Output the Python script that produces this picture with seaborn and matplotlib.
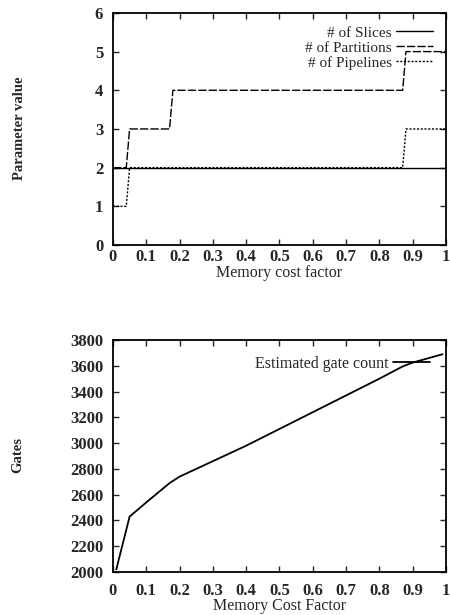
import numpy as np
import pandas as pd
import seaborn as sns
from matplotlib import pyplot as plt

# ==== data ====
cost = [0.0, 0.04, 0.05, 0.17, 0.18, 0.87, 0.88, 1.0]
slices = [2, 2, 2, 2, 2, 2, 2, 2]
partitions = [2, 2, 3, 3, 4, 4, 5, 5]
pipelines = [1, 1, 2, 2, 2, 2, 3, 3]

gate_cost = [0.01, 0.05, 0.10, 0.17, 0.20, 0.30, 0.40, 0.50, 0.60, 0.70, 0.80, 0.87, 0.90, 0.99]
gate_count = [2020, 2430, 2540, 2690, 2740, 2860, 2980, 3110, 3240, 3370, 3500, 3595, 3625, 3690]

xtick_labels = ['0', '0.1', '0.2', '0.3', '0.4', '0.5', '0.6', '0.7', '0.8', '0.9', '1']

sns.set_style('ticks')
plt.rcParams['font.family'] = ['Liberation Serif', 'DejaVu Serif']
plt.rcParams['xtick.direction'] = 'in'
plt.rcParams['ytick.direction'] = 'in'
plt.rcParams['xtick.top'] = True
plt.rcParams['ytick.right'] = True

fig = plt.figure(figsize=(4.5, 6.15), dpi=100)
ax1 = fig.add_axes([0.251, 0.6016, 0.740, 0.3774])
ax2 = fig.add_axes([0.251, 0.0699, 0.740, 0.3772])

top_df = pd.DataFrame({
    'x': cost * 3,
    'y': slices + partitions + pipelines,
    'series': ['# of Slices'] * len(cost) + ['# of Partitions'] * len(cost) + ['# of Pipelines'] * len(cost),
})
sns.lineplot(data=top_df, x='x', y='y', style='series', color='black', linewidth=1.0,
             dashes={'# of Slices': '', '# of Partitions': (6, 1.5), '# of Pipelines': (1.5, 1.2)},
             ax=ax1)
ax1.set_xlim(0, 1)
ax1.set_ylim(0, 6)
ax1.set_xticks(np.arange(0, 1.01, 0.1))
ax1.set_xticklabels(xtick_labels)
ax1.set_yticks(range(7))
ax1.set_xlabel('Memory cost factor', fontsize=11.5, labelpad=0)
ax1.set_ylabel('Parameter value', fontsize=10.5, fontweight='bold')
ax1.yaxis.set_label_coords(0.058, 0.792, transform=fig.transFigure)
leg = ax1.legend(loc='upper right', frameon=False, markerfirst=False, fontsize=11,
                 handlelength=2.4, labelspacing=0.08, borderaxespad=0.45, handletextpad=0.3)
for t in leg.get_texts():
    t.set_ha('right')

gate_df = pd.DataFrame({'x': gate_cost, 'y': gate_count})
sns.lineplot(data=gate_df, x='x', y='y', color='black', linewidth=1.3,
             label='Estimated gate count', ax=ax2)
ax2.set_xlim(0, 1)
ax2.set_ylim(2000, 3800)
ax2.set_xticks(np.arange(0, 1.01, 0.1))
ax2.set_xticklabels(xtick_labels)
ax2.set_yticks(range(2000, 3801, 200))
ax2.set_xlabel('Memory Cost Factor', fontsize=11.5, labelpad=-1)
ax2.set_ylabel('Gates', fontsize=10.5, fontweight='bold')
ax2.yaxis.set_label_coords(0.055, 0.26, transform=fig.transFigure)
ax2.legend(loc='upper right', frameon=False, markerfirst=False, fontsize=11.5,
           handlelength=2.3, borderaxespad=0.6, handletextpad=0.3)

for ax in (ax1, ax2):
    ax.tick_params(labelsize=12, length=4, width=1)
    ax.tick_params(axis='y', pad=7)
    for lbl in ax.get_xticklabels() + ax.get_yticklabels():
        lbl.set_fontweight('bold')
    for s in ax.spines.values():
        s.set_linewidth(1.3)
        s.set_color('black')
ax1.tick_params(axis='x', pad=3)
ax2.tick_params(axis='x', pad=8)

fig.savefig('out.png', dpi=100)
